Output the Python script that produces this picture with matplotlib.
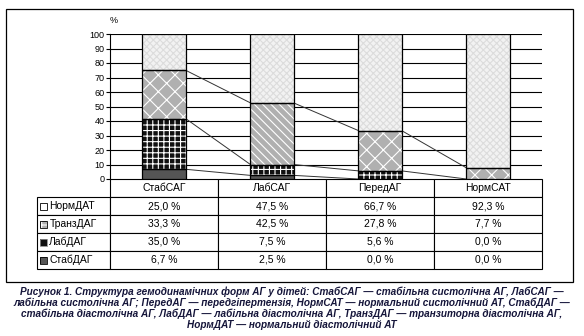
import numpy as np
import matplotlib
matplotlib.use("Agg")
import matplotlib.pyplot as plt
from matplotlib.patches import Rectangle

plt.rcParams["font.family"] = ["Liberation Sans", "DejaVu Sans"]
plt.rcParams["hatch.linewidth"] = 0.8

categories = ["СтабСАГ", "ЛабСАГ", "ПередАГ", "НормСАТ"]
series_names = ["СтабДАГ", "ЛабДАГ", "ТранзДАГ", "НормДАТ"]
stab_dag = [6.7, 2.5, 0.0, 0.0]
lab_dag = [35.0, 7.5, 5.6, 0.0]
tranz_dag = [33.3, 42.5, 27.8, 7.7]
norm_dat = [25.0, 47.5, 66.7, 92.3]
y_ticks = [0, 10, 20, 30, 40, 50, 60, 70, 80, 90, 100]

caption = ("Рисунок 1. Структура гемодинамічних форм АГ у дітей: СтабСАГ — стабільна систолічна АГ, ЛабСАГ —\n"
           "лабільна систолічна АГ; ПередАГ — передгіпертензія, НормСАТ — нормальний систолічний АТ, СтабДАГ —\n"
           "стабільна діастолічна АГ, ЛабДАГ — лабільна діастолічна АГ, ТранзДАГ — транзиторна діастолічна АГ,\n"
           "НормДАТ — нормальний діастолічний АТ")

series = [stab_dag, lab_dag, tranz_dag, norm_dat]
# fill, hatch colour, hatch per series (per bar for the transient one)
styles = [
    ("#555555", "#555555", [""] * 4),
    ("#111111", "white", ["+++"] * 4),
    ("#b0b0b0", "white", ["xx", "\\\\\\\\", "xx", "xx"]),
    ("#f2f2f2", "#dcdcdc", ["xxxxx"] * 4),
]

fig = plt.figure(figsize=(5.84, 3.36), dpi=100)
ax = fig.add_axes([110 / 584, 1 - 179 / 336, 432 / 584, 145 / 336])

x = np.arange(len(categories))
w = 0.4
bottom = np.zeros(len(categories))
cums = [bottom.copy()]
for vals, (fc, hc, hatches) in zip(series, styles):
    vals = np.array(vals)
    for i in range(len(categories)):
        if vals[i] <= 0:
            continue
        ax.bar(x[i], vals[i], w, bottom=bottom[i], color=fc, edgecolor=hc,
               hatch=hatches[i], linewidth=0, zorder=3)
        ax.bar(x[i], vals[i], w, bottom=bottom[i], fill=False,
               edgecolor="black", linewidth=0.9, zorder=4)
    bottom = bottom + vals
    cums.append(bottom.copy())

# series lines between neighbouring bars
for level in cums[1:-1]:
    for i in range(len(categories) - 1):
        ax.plot([x[i] + w / 2, x[i + 1] - w / 2], [level[i], level[i + 1]],
                color="#333333", lw=0.7, zorder=2)

ax.set_xlim(-0.5, len(categories) - 0.5)
ax.set_ylim(0, 100)
ax.set_yticks(y_ticks)
ax.tick_params(axis="y", labelsize=6.5, length=3, width=0.8, pad=1)
ax.set_xticks([])
for yt in y_ticks[1:]:
    ax.axhline(yt, color="black", lw=0.8, zorder=1)
for side in ["top", "right", "bottom"]:
    ax.spines[side].set_visible(False)
ax.spines["left"].set_linewidth(0.8)
ax.text(0.0, 1.06, "%", transform=ax.transAxes, fontsize=6.5, ha="left", va="bottom")

# data table under the axes
cell_text = []
for name, vals in zip(series_names[::-1], series[::-1]):
    cell_text.append([name] + [f"{v:.1f} %".replace(".", ",") for v in vals])

tx0 = (37 - 110) / 432
tw = (542 - 37) / 432
th = 90 / 145
table = ax.table(cellText=cell_text, colLabels=[""] + categories,
                 colWidths=[73] + [108] * 4, cellLoc="center",
                 bbox=[tx0, -th, tw, th])
table.auto_set_font_size(False)
table.set_fontsize(7.5)
for (r, c), cell in table.get_celld().items():
    cell.set_linewidth(0.8)
    if r == 0 and c == 0:
        cell.visible_edges = ""
    if r > 0 and c == 0:
        cell._loc = "left"
        cell.PAD = 0.17
        cell.get_text().set_ha("left")

# legend keys in front of the row labels
key_styles = styles[::-1]
rh = th / 5
for k, (fc, hc, hatches) in enumerate(key_styles):
    yc = -rh * (k + 1) - rh / 2
    kw, kh = 7 / 432, 7 / 145
    fill = "white" if k == 0 else fc
    ax.add_patch(Rectangle((tx0 + 3 / 432, yc - kh / 2), kw, kh, transform=ax.transAxes,
                           facecolor=fill, edgecolor=hc if k == 1 else "none",
                           hatch=("+" if k == 1 else ""), lw=0, clip_on=False, zorder=5))
    ax.add_patch(Rectangle((tx0 + 3 / 432, yc - kh / 2), kw, kh, transform=ax.transAxes,
                           fill=False, edgecolor="black" if k != 2 else "#888888",
                           lw=0.6, clip_on=False, zorder=6))

fig.patches.append(Rectangle((6 / 584, 1 - 282 / 336), 567 / 584, 273 / 336,
                             transform=fig.transFigure, fill=False,
                             edgecolor="black", lw=0.9))

fig.text(0.5, 1 - 286 / 336, caption, ha="center", va="top", fontsize=7.2,
         fontweight="bold", style="italic", color="#15153a", linespacing=1.1)

fig.savefig("out.png", dpi=100)
